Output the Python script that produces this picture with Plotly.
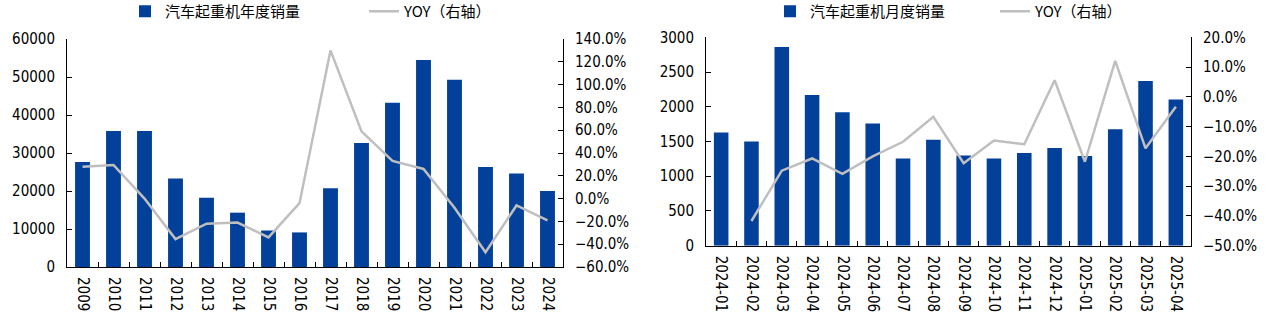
import plotly.graph_objects as go

# ---- data ----
years = ["2009", "2010", "2011", "2012", "2013", "2014", "2015", "2016",
         "2017", "2018", "2019", "2020", "2021", "2022", "2023", "2024"]
annual_sales = [27600, 35800, 35800, 23300, 18200, 14300, 9600, 9100,
                20700, 32600, 43200, 54500, 49300, 26300, 24600, 20000]
annual_yoy = [0.28, 0.295, 0.00, -0.355, -0.22, -0.21, -0.34, -0.04,
              1.30, 0.59, 0.33, 0.26, -0.08, -0.47, -0.06, -0.19]

months = ["2024-01", "2024-02", "2024-03", "2024-04", "2024-05", "2024-06",
          "2024-07", "2024-08", "2024-09", "2024-10", "2024-11", "2024-12",
          "2025-01", "2025-02", "2025-03", "2025-04"]
monthly_sales = [1630, 1500, 2860, 2170, 1920, 1760, 1255, 1525,
                 1300, 1255, 1335, 1405, 1290, 1675, 2370, 2105]
monthly_yoy = [None, -0.417, -0.248, -0.207, -0.259, -0.20, -0.151, -0.067,
               -0.223, -0.147, -0.159, 0.056, -0.218, 0.121, -0.173, -0.033]

BAR = "#02409A"
LINE = "#BFBFBF"
TICKFONT = dict(family="DejaVu Sans Condensed, DejaVu Sans", size=15, color="#000000")
LEGFONT = dict(family="Noto Sans CJK SC", size=15, color="#000000")

W, H = 1279, 323

fig = go.Figure()

fig.add_trace(go.Bar(x=years, y=annual_sales, name="汽车起重机年度销量",
                     marker=dict(color=BAR, line=dict(width=0)),
                     xaxis="x", yaxis="y", legend="legend"))
fig.add_trace(go.Scatter(x=years, y=annual_yoy, name="YOY（右轴）", mode="lines",
                         line=dict(color=LINE, width=2.5),
                         xaxis="x", yaxis="y2", legend="legend"))
fig.add_trace(go.Bar(x=months, y=monthly_sales, name="汽车起重机月度销量",
                     marker=dict(color=BAR, line=dict(width=0)),
                     xaxis="x2", yaxis="y3", legend="legend2"))
fig.add_trace(go.Scatter(x=months, y=monthly_yoy, name="YOY（右轴）", mode="lines",
                         line=dict(color=LINE, width=2.5),
                         xaxis="x2", yaxis="y4", legend="legend2"))

axis_common = dict(showline=True, linecolor="#000000", linewidth=1,
                   ticks="inside", ticklen=5, tickcolor="#000000",
                   showgrid=False, zeroline=False, tickfont=TICKFONT,
                   automargin=False)

x1 = [67 / W, 563 / W]
y1 = [1 - 267 / H, 1 - 39 / H]
x2 = [706 / W, 1191 / W]
y2 = [1 - 245.7 / H, 1 - 37.3 / H]

fig.update_layout(
    width=W, height=H,
    margin=dict(l=0, r=0, t=0, b=0, autoexpand=False),
    paper_bgcolor="white", plot_bgcolor="white",
    bargap=0.52,
    xaxis=dict(domain=x1, anchor="y", type="category", tickangle=90,
               tickson="boundaries", ticklabelstandoff=6, **axis_common),
    yaxis=dict(domain=y1, anchor="x", range=[0, 60000], dtick=10000,
               tickformat="d", ticklabelstandoff=8, **axis_common),
    yaxis2=dict(overlaying="y", side="right", anchor="x", range=[-0.6, 1.4],
                dtick=0.2, tickformat=".1%", ticklabelstandoff=8, **axis_common),
    xaxis2=dict(domain=x2, anchor="y3", type="category", tickangle=90,
                tickson="boundaries", ticklabelstandoff=6, **axis_common),
    yaxis3=dict(domain=y2, anchor="x2", range=[0, 3000], dtick=500,
                tickformat="d", ticklabelstandoff=8, **axis_common),
    yaxis4=dict(overlaying="y3", side="right", anchor="x2", range=[-0.5, 0.2],
                dtick=0.1, tickformat=".1%", ticklabelstandoff=8, **axis_common),
    legend=dict(orientation="h", x=125 / W, y=1 + 5 / H, xanchor="left", yanchor="top",
                font=LEGFONT, bgcolor="rgba(0,0,0,0)", entrywidth=194,
                traceorder="normal"),
    legend2=dict(orientation="h", x=770 / W, y=1 + 5 / H, xanchor="left", yanchor="top",
                 font=LEGFONT, bgcolor="rgba(0,0,0,0)", entrywidth=180,
                 traceorder="normal"),
    showlegend=True,
)

fig.write_html("out.html")
